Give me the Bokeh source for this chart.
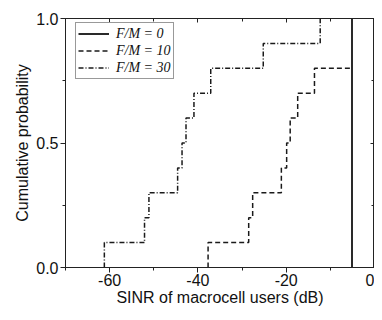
from bokeh.plotting import figure
from bokeh.models import (Range1d, LinearAxis, FixedTicker, PrintfTickFormatter, Legend)
from bokeh.embed import file_html
from bokeh.resources import INLINE

probs = [0.1, 0.2, 0.3, 0.4, 0.5, 0.6, 0.7, 0.8, 0.9, 1.0]
fm0 = [-5.1, -5.1, -5.1, -5.1, -5.1, -5.1, -5.1, -5.1, -5.1, -5.1]
fm10 = [-37.7, -28.5, -27.6, -21.1, -19.9, -19.1, -17.4, -13.6, -5.1, -5.1]
fm30 = [-61.2, -52.1, -51.1, -44.6, -43.6, -42.7, -40.9, -37.1, -25.2, -12.3]
labels = ["F/M = 0", "F/M = 10", "F/M = 30"]
x_ticks = [-60, -40, -20, 0]
x_minor = [-70, -50, -30, -10]
y_ticks = [0.0, 0.5, 1.0]
y_minor = [0.25, 0.75]

W, H = 374, 312
BL, BR, BT, BB = 65, 0, 18, 45

p = figure(width=W, height=H, output_backend="svg", toolbar_location=None,
           x_range=Range1d(-70, 0), y_range=Range1d(0, 1.0),
           min_border_left=BL, min_border_right=BR, min_border_top=BT, min_border_bottom=BB,
           background_fill_color="white", border_fill_color="white")
p.xgrid.visible = False
p.ygrid.visible = False
p.outline_line_color = "#222222"
p.outline_line_width = 1

FONT = "Liberation Sans"

def style_axis(ax, ticks, minor, fmt, show_labels, inward):
    ax.ticker = FixedTicker(ticks=ticks, minor_ticks=minor)
    ax.formatter = PrintfTickFormatter(format=fmt)
    ax.axis_line_color = "#222222"
    ax.major_tick_line_color = "#222222"
    ax.minor_tick_line_color = "#222222"
    if inward:
        ax.major_tick_in = 4
        ax.major_tick_out = 0
        ax.minor_tick_in = 3
        ax.minor_tick_out = 0
    else:
        ax.major_tick_in = 0
        ax.major_tick_out = 5
        ax.minor_tick_in = 0
        ax.minor_tick_out = 3
    if show_labels:
        ax.major_label_text_font = FONT
        ax.major_label_text_font_size = "16px"
        ax.major_label_text_color = "#111111"
        ax.major_label_standoff = 2
        ax.axis_label_text_font = FONT
        ax.axis_label_text_font_size = "16px"
        ax.axis_label_text_font_style = "normal"
        ax.axis_label_text_color = "#111111"
        ax.axis_label_standoff = 2
    else:
        ax.major_label_overrides = {t: "" for t in ticks}
        ax.major_label_text_font_size = "1px"
        ax.major_label_standoff = 0
        ax.axis_label_standoff = 0

xa = p.xaxis[0]
ya = p.yaxis[0]
style_axis(xa, x_ticks, x_minor, "%d", True, False)
style_axis(ya, y_ticks, y_minor, "%.1f", True, False)
xa.axis_label = "SINR of macrocell users (dB)"
ya.axis_label = "Cumulative probability"
xa.axis_label_standoff = 0
xa.major_label_standoff = 1

top = LinearAxis()
style_axis(top, x_ticks, x_minor, "%d", False, True)
p.add_layout(top, "above")
right = LinearAxis()
style_axis(right, y_ticks, y_minor, "%.1f", False, True)
p.add_layout(right, "right")

def steps(vals):
    xs = [vals[0]] + list(vals)
    ys = [0.0] + list(probs)
    return xs, ys

x30, y30 = steps(fm30)
r30 = p.step(x30, y30, mode="after", line_color="#1a1a1a", line_width=1.5, line_dash="5 2 1 2")
x10, y10 = steps(fm10)
r10 = p.step(x10, y10, mode="after", line_color="#1a1a1a", line_width=1.5, line_dash="5 3")
x0, y0 = steps(fm0)
r0 = p.step(x0, y0, mode="after", line_color="#2a2a2a", line_width=2)

frame_h = H - BT - BB
legend = Legend(items=[(labels[0], [r0]), (labels[1], [r10]), (labels[2], [r30])],
                location=(10, frame_h - 5 - 56))
legend.margin = 0
legend.padding = 2
legend.spacing = 0
legend.label_height = 17
legend.glyph_height = 17
legend.glyph_width = 31
legend.label_standoff = 7
legend.label_text_font = "Liberation Serif"
legend.label_text_font_style = "italic"
legend.label_text_font_size = "14px"
legend.label_text_color = "#111111"
legend.border_line_color = "#333333"
legend.border_line_width = 1
legend.background_fill_color = "white"
legend.background_fill_alpha = 1.0
p.add_layout(legend, "center")

open("out.html", "w").write(file_html(p, INLINE))
